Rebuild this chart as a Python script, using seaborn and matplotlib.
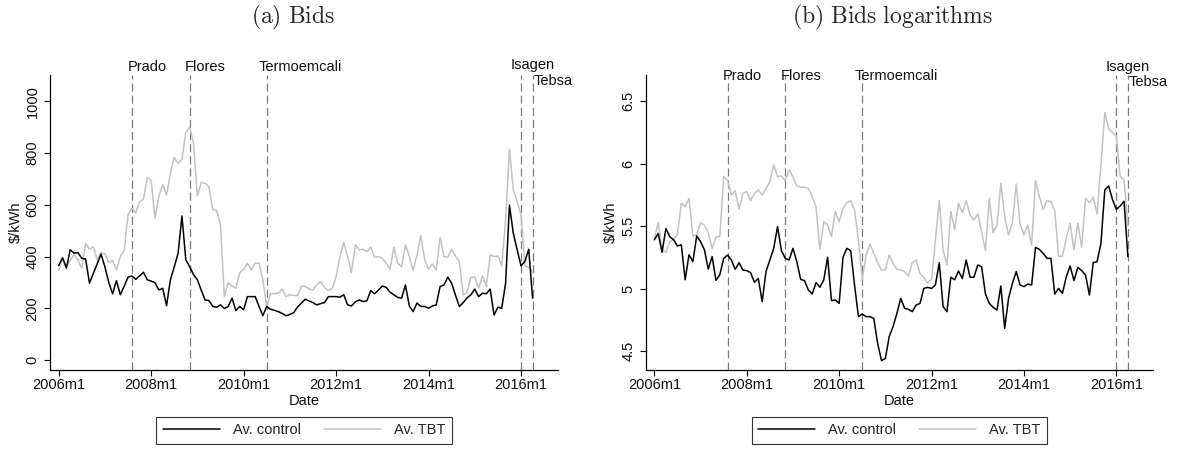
import numpy as np
import pandas as pd
import seaborn as sns
import matplotlib
matplotlib.use("Agg")
import matplotlib.pyplot as plt
import matplotlib.transforms as mtransforms
from matplotlib.lines import Line2D

# ---------------- data (monthly, 2006m1 .. 2016m4) ----------------
ctrl_level = [
    365, 395, 355, 426, 413, 415, 393, 390, 297, 335, 372, 409,   # 2006
    360, 300, 256, 307, 252, 285, 320, 325, 312, 325, 339, 310,   # 2007
    305, 299, 271, 277, 210, 310, 360, 413, 557, 387, 361, 330,   # 2008
    310, 270, 232, 230, 207, 204, 213, 199, 207, 239, 191, 207,   # 2009
    194, 245, 245, 245, 207, 171, 207, 196, 192, 187, 180, 171,   # 2010
    176, 183, 205, 220, 235, 228, 222, 213, 218, 222, 245, 245,   # 2011
    245, 243, 252, 213, 209, 225, 232, 226, 229, 268, 256, 270,   # 2012
    286, 281, 262, 252, 242, 239, 290, 209, 187, 220, 207, 207,   # 2013
    200, 209, 213, 284, 290, 320, 297, 250, 207, 222, 240, 252,   # 2014
    274, 245, 258, 256, 274, 174, 204, 200, 297, 599, 490, 426,   # 2015
    364, 381, 428, 239]                                           # 2016
tbt_level = [
    345, 395, 361, 385, 408, 385, 355, 451, 428, 438, 387, 415,
    410, 377, 384, 348, 400, 423, 561, 587, 570, 612, 621, 706,
    696, 548, 632, 677, 638, 722, 784, 760, 776, 879, 900, 838,
    634, 686, 683, 670, 580, 578, 522, 245, 299, 286, 277, 338,
    351, 374, 348, 374, 374, 310, 207, 258, 256, 258, 274, 245,
    252, 250, 248, 286, 284, 275, 271, 290, 303, 281, 268, 277,
    322, 400, 454, 400, 338, 445, 426, 428, 419, 436, 397, 400,
    393, 374, 351, 436, 374, 361, 445, 400, 346, 406, 480, 387,
    351, 371, 348, 474, 400, 397, 428, 402, 380, 252, 261, 320,
    320, 277, 325, 284, 406, 400, 402, 364, 542, 815, 657, 612,
    561, 364, 359, 340]
ctrl_log = [
    5.39, 5.44, 5.29, 5.48, 5.415, 5.39, 5.34, 5.35, 5.07, 5.27, 5.215, 5.42,
    5.375, 5.31, 5.155, 5.255, 5.065, 5.11, 5.24, 5.268, 5.228, 5.153, 5.207, 5.148,
    5.143, 5.127, 5.05, 5.08, 4.895, 5.135, 5.228, 5.321, 5.495, 5.303, 5.241, 5.228,
    5.321, 5.215, 5.073, 5.063, 4.988, 4.956, 5.047, 5.01, 5.068, 5.25, 4.903, 4.908,
    4.881, 5.25, 5.321, 5.303, 5.028, 4.775, 4.796, 4.775, 4.775, 4.761, 4.561, 4.423,
    4.441, 4.615, 4.695, 4.801, 4.921, 4.841, 4.833, 4.815, 4.868, 4.881, 5.001, 5.009,
    5.001, 5.028, 5.207, 4.855, 4.815, 5.09, 5.07, 5.14, 5.08, 5.228, 5.09, 5.09,
    5.188, 5.175, 4.956, 4.881, 4.849, 4.828, 5.02, 4.681, 4.921, 5.041, 5.135, 5.028,
    5.015, 5.036, 5.028, 5.329, 5.313, 5.281, 5.241, 5.241, 4.956, 5.001, 4.961, 5.095,
    5.18, 5.063, 5.169, 5.143, 5.108, 4.948, 5.207, 5.215, 5.361, 5.788, 5.82, 5.713,
    5.633, 5.66, 5.697, 5.255]
tbt_log = [
    5.393, 5.527, 5.313, 5.287, 5.375, 5.39, 5.436, 5.681, 5.655, 5.721, 5.42, 5.428,
    5.527, 5.508, 5.447, 5.321, 5.409, 5.42, 5.895, 5.865, 5.748, 5.783, 5.633, 5.761,
    5.775, 5.703, 5.761, 5.788, 5.748, 5.801, 5.855, 5.988, 5.895, 5.9, 5.863, 5.948,
    5.89, 5.82, 5.81, 5.81, 5.801, 5.735, 5.649, 5.313, 5.535, 5.508, 5.415, 5.615,
    5.535, 5.641, 5.687, 5.703, 5.628, 5.388, 5.073, 5.268, 5.356, 5.281, 5.207, 5.148,
    5.148, 5.268, 5.201, 5.153, 5.148, 5.135, 5.1, 5.207, 5.228, 5.121, 5.089, 5.041,
    5.073, 5.388, 5.705, 5.308, 5.185, 5.615, 5.473, 5.681, 5.607, 5.703, 5.588, 5.548,
    5.596, 5.455, 5.303, 5.721, 5.447, 5.508, 5.841, 5.575, 5.428, 5.527, 5.836, 5.516,
    5.428, 5.508, 5.348, 5.863, 5.735, 5.633, 5.703, 5.695, 5.623, 5.255, 5.26, 5.401,
    5.521, 5.308, 5.521, 5.329, 5.721, 5.687, 5.729, 5.596, 5.99, 6.407, 6.281, 6.247,
    6.22, 5.895, 5.873, 5.5]

months = list(range(len(ctrl_level)))          # 0 = 2006m1
event_months = [19, 34, 54, 120, 123]
event_names = ["Prado", "Flores", "Termoemcali", "Isagen", "Tebsa"]
xtick_months = [0, 24, 48, 72, 96, 120]
xtick_labels = ["2006m1", "2008m1", "2010m1", "2012m1", "2014m1", "2016m1"]
yticks_level = [0, 200, 400, 600, 800, 1000]
yticks_log = [4.5, 5, 5.5, 6, 6.5]
ytick_log_labels = ["4.5", "5", "5.5", "6", "6.5"]
series_names = ["Av. control", "Av. TBT"]
titles = [r"$\mathrm{(a)\ Bids}$", r"$\mathrm{(b)\ Bids\ logarithms}$"]

# ---------------- style ----------------
sns.set_theme(style="white")
plt.rcParams["font.family"] = ["Liberation Sans", "DejaVu Sans"]
plt.rcParams["mathtext.fontset"] = "cm"
FS = 10.5
colors = {"Av. control": "black", "Av. TBT": "#c2c2c2"}

W, H = 1180, 450
fig = plt.figure(figsize=(W / 100, H / 100), dpi=100)
axL = fig.add_axes([50 / W, 80 / H, 508 / W, 295 / H])
axR = fig.add_axes([645.7 / W, 80 / H, 507.6 / W, 295 / H])


def make_df(ctrl, tbt):
    return pd.DataFrame({
        "month": months * 2,
        "value": list(ctrl) + list(tbt),
        "series": ["Av. control"] * len(ctrl) + ["Av. TBT"] * len(tbt),
    })


def draw(ax, df, ylim, yticks, ylabels, label_y, isagen_y, tebsa_y):
    for m in event_months:
        ax.axvline(m, color="#7a7a7a", lw=0.9, ls=(0, (6.5, 3.2)), zorder=1)
    sns.lineplot(data=df, x="month", y="value", hue="series",
                 hue_order=["Av. TBT", "Av. control"], palette=colors,
                 linewidth=1.1, legend=False, ax=ax, zorder=2)
    ax.set_xlim(-2.25, 129.6)
    ax.set_ylim(*ylim)
    ax.set_xticks(xtick_months)
    ax.set_xticklabels(xtick_labels, fontsize=FS, color="#111111")
    ax.set_yticks(yticks)
    ax.set_yticklabels(ylabels, rotation=90, va="center", fontsize=FS,
                       color="#111111")
    ax.tick_params(axis="x", direction="out", length=4, width=0.8,
                   color="black", pad=2, bottom=True)
    ax.tick_params(axis="y", direction="out", length=4, width=0.8,
                   color="black", pad=3.5, left=True)
    for s in ["top", "right"]:
        ax.spines[s].set_visible(False)
    for s in ["left", "bottom"]:
        ax.spines[s].set_color("black")
        ax.spines[s].set_linewidth(0.9)
    ax.set_xlabel("Date", fontsize=FS, labelpad=1, color="#111111")
    ax.set_ylabel(r"\$/kWh", fontsize=FS, labelpad=2.2, color="#111111")
    ax.grid(False)
    # event labels
    dx_px = [-4.6, -4.7, -8.0, -10.3, 0.8]
    ys = [label_y, label_y, label_y, isagen_y, tebsa_y]
    for m, name, dx, yy in zip(event_months, event_names, dx_px, ys):
        tr = mtransforms.blended_transform_factory(ax.transData, ax.transAxes)
        tr = tr + mtransforms.ScaledTranslation(dx / 100, 0, fig.dpi_scale_trans)
        ax.text(m, yy, name, transform=tr, ha="left", va="center",
                fontsize=FS, clip_on=False, color="#111111")
    handles = [Line2D([], [], color=colors[n], lw=1.1) for n in series_names]
    leg = ax.legend(handles, series_names, loc="center",
                    bbox_to_anchor=(0.5, -0.205), ncol=2, frameon=True,
                    fancybox=False, edgecolor="black", fontsize=FS,
                    handlelength=3.9, handletextpad=0.9, columnspacing=1.6,
                    borderpad=0.45)
    leg.get_frame().set_linewidth(0.8)


draw(axL, make_df(ctrl_level, tbt_level), (-38.7, 1101.7), yticks_level,
     [str(v) for v in yticks_level], 1.028, 1.034, 0.981)
draw(axR, make_df(ctrl_log, tbt_log), (4.348, 6.708), yticks_log,
     ytick_log_labels, 0.998, 1.028, 0.975)

fig.text(293 / W, 1 - 17 / H, titles[0], ha="center", va="center", fontsize=17)
fig.text(893 / W, 1 - 17 / H, titles[1], ha="center", va="center", fontsize=17)

fig.savefig("out.png", dpi=100, facecolor="white")
